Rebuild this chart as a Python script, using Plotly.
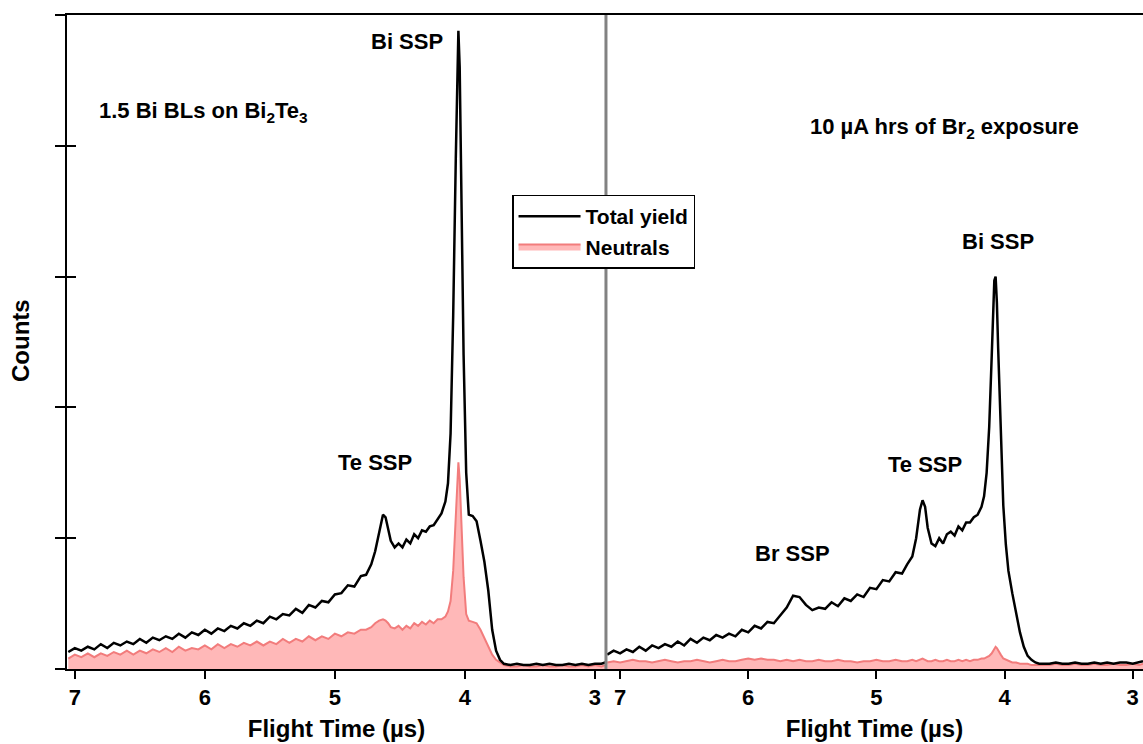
import plotly.graph_objects as go

# ---------------- data ----------------
LEFT_X = [
    7.05, 7.00, 6.95, 6.90, 6.85, 6.80, 6.75, 6.70, 6.65, 6.60,
    6.55, 6.50, 6.45, 6.40, 6.35, 6.30, 6.25, 6.20, 6.15, 6.10,
    6.05, 6.00, 5.95, 5.90, 5.85, 5.80, 5.75, 5.70, 5.65, 5.60,
    5.55, 5.50, 5.45, 5.40, 5.35, 5.30, 5.25, 5.20, 5.15, 5.10,
    5.05, 5.00, 4.95, 4.90, 4.85, 4.80, 4.76, 4.72, 4.69, 4.66,
    4.63, 4.61, 4.59, 4.57, 4.54, 4.51, 4.48, 4.45, 4.42, 4.39,
    4.36, 4.33, 4.30, 4.27, 4.24, 4.21, 4.18, 4.15, 4.13, 4.11,
    4.09, 4.07, 4.06, 4.05, 4.04, 4.03, 4.01, 3.99, 3.97, 3.94,
    3.91, 3.88, 3.85, 3.82, 3.79, 3.76, 3.73, 3.70, 3.65, 3.60,
    3.55, 3.50, 3.45, 3.40, 3.35, 3.30, 3.25, 3.20, 3.15, 3.10,
    3.05, 3.00, 2.95, 2.92,
]
LEFT_TOTAL = [
    0.13, 0.16, 0.14, 0.17, 0.15, 0.19, 0.16, 0.20, 0.18, 0.21,
    0.19, 0.23, 0.20, 0.24, 0.22, 0.25, 0.23, 0.27, 0.24, 0.28,
    0.26, 0.30, 0.27, 0.31, 0.29, 0.33, 0.31, 0.35, 0.33, 0.37,
    0.35, 0.40, 0.38, 0.42, 0.41, 0.46, 0.43, 0.49, 0.47, 0.52,
    0.51, 0.57, 0.58, 0.64, 0.63, 0.71, 0.72, 0.80, 0.90, 1.05,
    1.18, 1.16, 1.06, 0.98, 0.93, 0.96, 0.93, 0.99, 0.96, 1.03,
    1.00, 1.06, 1.05, 1.09, 1.10, 1.15, 1.19, 1.28, 1.42, 1.80,
    2.70, 3.90, 4.55, 4.88, 4.60, 3.70, 2.40, 1.50, 1.18, 1.17,
    1.13, 0.98, 0.82, 0.60, 0.30, 0.14, 0.07, 0.04, 0.03, 0.04,
    0.03, 0.03, 0.04, 0.03, 0.04, 0.03, 0.03, 0.04, 0.03, 0.04,
    0.03, 0.04, 0.04, 0.05,
]
LEFT_NEUTRALS = [
    0.08, 0.11, 0.09, 0.12, 0.09, 0.12, 0.10, 0.13, 0.11, 0.14,
    0.11, 0.14, 0.12, 0.15, 0.13, 0.16, 0.13, 0.17, 0.14, 0.16,
    0.15, 0.18, 0.15, 0.19, 0.16, 0.19, 0.17, 0.20, 0.18, 0.21,
    0.18, 0.21, 0.19, 0.23, 0.20, 0.23, 0.21, 0.25, 0.22, 0.25,
    0.23, 0.27, 0.25, 0.28, 0.27, 0.30, 0.30, 0.32, 0.35, 0.37,
    0.38, 0.37, 0.35, 0.32, 0.31, 0.33, 0.30, 0.33, 0.31, 0.35,
    0.33, 0.36, 0.34, 0.37, 0.35, 0.38, 0.38, 0.40, 0.44, 0.52,
    0.75, 1.20, 1.45, 1.58, 1.45, 1.15, 0.70, 0.42, 0.37, 0.36,
    0.35, 0.30, 0.24, 0.17, 0.11, 0.07, 0.05, 0.03, 0.02, 0.02,
    0.03, 0.02, 0.02, 0.03, 0.02, 0.02, 0.03, 0.02, 0.02, 0.03,
    0.02, 0.03, 0.02, 0.03,
]

RIGHT_X = [
    7.10, 7.05, 7.00, 6.95, 6.90, 6.85, 6.80, 6.75, 6.70, 6.65,
    6.60, 6.55, 6.50, 6.45, 6.40, 6.35, 6.30, 6.25, 6.20, 6.15,
    6.10, 6.05, 6.00, 5.95, 5.90, 5.85, 5.80, 5.75, 5.70, 5.65,
    5.60, 5.55, 5.50, 5.45, 5.40, 5.35, 5.30, 5.25, 5.20, 5.15,
    5.10, 5.05, 5.00, 4.95, 4.90, 4.85, 4.80, 4.76, 4.72, 4.69,
    4.66, 4.64, 4.62, 4.60, 4.57, 4.54, 4.51, 4.48, 4.45, 4.42,
    4.39, 4.36, 4.33, 4.30, 4.27, 4.24, 4.21, 4.18, 4.16, 4.14,
    4.12, 4.10, 4.09, 4.08, 4.07, 4.06, 4.05, 4.03, 4.01, 3.99,
    3.97, 3.94, 3.91, 3.88, 3.85, 3.82, 3.79, 3.76, 3.73, 3.70,
    3.65, 3.60, 3.55, 3.50, 3.45, 3.40, 3.35, 3.30, 3.25, 3.20,
    3.15, 3.10, 3.05, 3.00, 2.95, 2.92,
]
RIGHT_TOTAL = [
    0.11, 0.14, 0.12, 0.15, 0.13, 0.17, 0.14, 0.18, 0.16, 0.19,
    0.17, 0.21, 0.18, 0.23, 0.20, 0.24, 0.22, 0.26, 0.24, 0.27,
    0.25, 0.30, 0.28, 0.33, 0.31, 0.36, 0.35, 0.41, 0.47, 0.56,
    0.55, 0.49, 0.45, 0.47, 0.46, 0.51, 0.48, 0.54, 0.52, 0.57,
    0.55, 0.62, 0.61, 0.68, 0.67, 0.74, 0.73, 0.80, 0.86, 1.00,
    1.22, 1.29, 1.24, 1.08, 0.96, 0.94, 1.00, 0.96, 1.03, 1.05,
    1.02, 1.09, 1.06, 1.12, 1.12, 1.16, 1.18, 1.24, 1.32, 1.50,
    1.85, 2.40, 2.75, 2.97, 3.00, 2.80, 2.45, 1.80, 1.25, 0.95,
    0.75, 0.58, 0.42, 0.28, 0.17, 0.10, 0.07, 0.05, 0.04, 0.04,
    0.04, 0.05, 0.04, 0.04, 0.05, 0.04, 0.04, 0.05, 0.04, 0.05,
    0.04, 0.05, 0.05, 0.04, 0.05, 0.06,
]
RIGHT_NEUTRALS = [
    0.05, 0.06, 0.05, 0.06, 0.07, 0.06, 0.06, 0.05, 0.06, 0.07,
    0.06, 0.05, 0.06, 0.06, 0.07, 0.06, 0.05, 0.06, 0.07, 0.06,
    0.06, 0.07, 0.08, 0.07, 0.08, 0.07, 0.07, 0.06, 0.07, 0.06,
    0.07, 0.06, 0.06, 0.07, 0.06, 0.06, 0.07, 0.06, 0.06, 0.05,
    0.06, 0.06, 0.07, 0.06, 0.06, 0.07, 0.06, 0.06, 0.07, 0.06,
    0.07, 0.08, 0.07, 0.06, 0.06, 0.07, 0.06, 0.06, 0.07, 0.06,
    0.06, 0.07, 0.06, 0.07, 0.06, 0.07, 0.07, 0.08, 0.08, 0.09,
    0.10, 0.12, 0.14, 0.16, 0.17, 0.16, 0.14, 0.11, 0.08, 0.07,
    0.06, 0.05, 0.05, 0.04, 0.04, 0.04, 0.03, 0.03, 0.03, 0.03,
    0.03, 0.04, 0.03, 0.03, 0.04, 0.03, 0.03, 0.04, 0.03, 0.03,
    0.04, 0.03, 0.03, 0.04, 0.03, 0.04,
]

X_TICKS = [7, 6, 5, 4, 3]
Y_TICKS = [0, 1, 2, 3, 4, 5]

# ---------------- styles ----------------
FONT = "Liberation Sans, Arial, Helvetica, sans-serif"
BLACK = "#000000"
NEUT_LINE = "rgb(242,124,124)"
NEUT_FILL = "rgb(255,184,184)"
SPLIT = 0.5009

fig = go.Figure()

fig.add_trace(go.Scatter(x=LEFT_X, y=LEFT_NEUTRALS, mode="lines", fill="tozeroy",
                         line=dict(color=NEUT_LINE, width=2), fillcolor=NEUT_FILL,
                         name="Neutrals", legendrank=2, xaxis="x", yaxis="y"))
fig.add_trace(go.Scatter(x=LEFT_X, y=LEFT_TOTAL, mode="lines",
                         line=dict(color=BLACK, width=2.5),
                         name="Total yield", legendrank=1, xaxis="x", yaxis="y"))
fig.add_trace(go.Scatter(x=RIGHT_X, y=RIGHT_NEUTRALS, mode="lines", fill="tozeroy",
                         line=dict(color=NEUT_LINE, width=2), fillcolor=NEUT_FILL,
                         showlegend=False, xaxis="x2", yaxis="y2"))
fig.add_trace(go.Scatter(x=RIGHT_X, y=RIGHT_TOTAL, mode="lines",
                         line=dict(color=BLACK, width=2.5),
                         showlegend=False, xaxis="x2", yaxis="y2"))
# invisible helper trace so the inside-tick overlay axis is drawn
fig.add_trace(go.Scatter(x=[5], y=[0], mode="markers", marker=dict(opacity=0),
                         showlegend=False, hoverinfo="skip", xaxis="x", yaxis="y3"))

xcommon = dict(tickvals=X_TICKS, ticks="outside", ticklen=8, tickwidth=2,
               tickcolor=BLACK, showline=True, linecolor=BLACK, linewidth=2,
               mirror=True, showgrid=False, zeroline=False,
               tickfont=dict(size=22, color=BLACK, family=FONT, weight="bold"),
               title=dict(text="Flight Time (µs)", standoff=11,
                          font=dict(size=24, color=BLACK, family=FONT, weight="bold")))

fig.update_layout(
    width=1143, height=744,
    margin=dict(l=67, r=0, t=15, b=75),
    paper_bgcolor="white", plot_bgcolor="white",
    font=dict(family=FONT, color=BLACK, weight="bold"),
    xaxis=dict(domain=[0, SPLIT], range=[7.06, 2.915], anchor="y", **xcommon),
    xaxis2=dict(domain=[SPLIT, 1], range=[7.11, 2.92], anchor="y2", **xcommon),
    yaxis=dict(range=[0, 5], tickvals=Y_TICKS, ticks="outside", ticklen=10,
               tickwidth=2, tickcolor=BLACK, showticklabels=False, showline=True,
               linecolor=BLACK, linewidth=2, showgrid=False, zeroline=False),
    yaxis3=dict(range=[0, 5], tickvals=Y_TICKS, ticks="inside", ticklen=9,
                tickwidth=2, tickcolor=BLACK, showticklabels=False, showline=False,
                showgrid=False, zeroline=False, overlaying="y", anchor="x"),
    yaxis2=dict(range=[0, 5], anchor="x2", visible=False, showgrid=False),
    showlegend=True,
    legend=dict(x=0.4136, y=0.7255, xanchor="left", yanchor="top",
                bgcolor="white", bordercolor=BLACK, borderwidth=1.5,
                font=dict(size=21, family=FONT, color=BLACK, weight="bold"),
                itemwidth=62, tracegroupgap=0, traceorder="normal"),
    shapes=[dict(type="line", xref="paper", yref="paper", x0=SPLIT, x1=SPLIT,
                 y0=0, y1=1, line=dict(color="rgb(130,130,130)", width=3))],
)

ann_font = dict(size=22, family=FONT, color=BLACK, weight="bold")
annotations = [
    dict(text="1.5 Bi BLs on Bi<sub>2</sub>Te<sub>3</sub>", x=0.0279, y=0.852, xanchor="left"),
    dict(text="Bi SSP", x=0.316, y=0.959, xanchor="center"),
    dict(text="Te SSP", x=0.286, y=0.315, xanchor="center"),
    dict(text="10 µA hrs of Br<sub>2</sub> exposure", x=0.6887, y=0.827, xanchor="left"),
    dict(text="Bi SSP", x=0.865, y=0.653, xanchor="center"),
    dict(text="Te SSP", x=0.797, y=0.312, xanchor="center"),
    dict(text="Br SSP", x=0.674, y=0.176, xanchor="center"),
]
for a in annotations:
    fig.add_annotation(xref="paper", yref="paper", yanchor="middle", showarrow=False,
                       font=ann_font, **a)
fig.add_annotation(text="Counts", xref="paper", yref="paper", x=-0.0437, y=0.503,
                   textangle=-90, showarrow=False, xanchor="center", yanchor="middle",
                   font=dict(size=24, family=FONT, color=BLACK, weight="bold"))

fig.write_html("out.html")
